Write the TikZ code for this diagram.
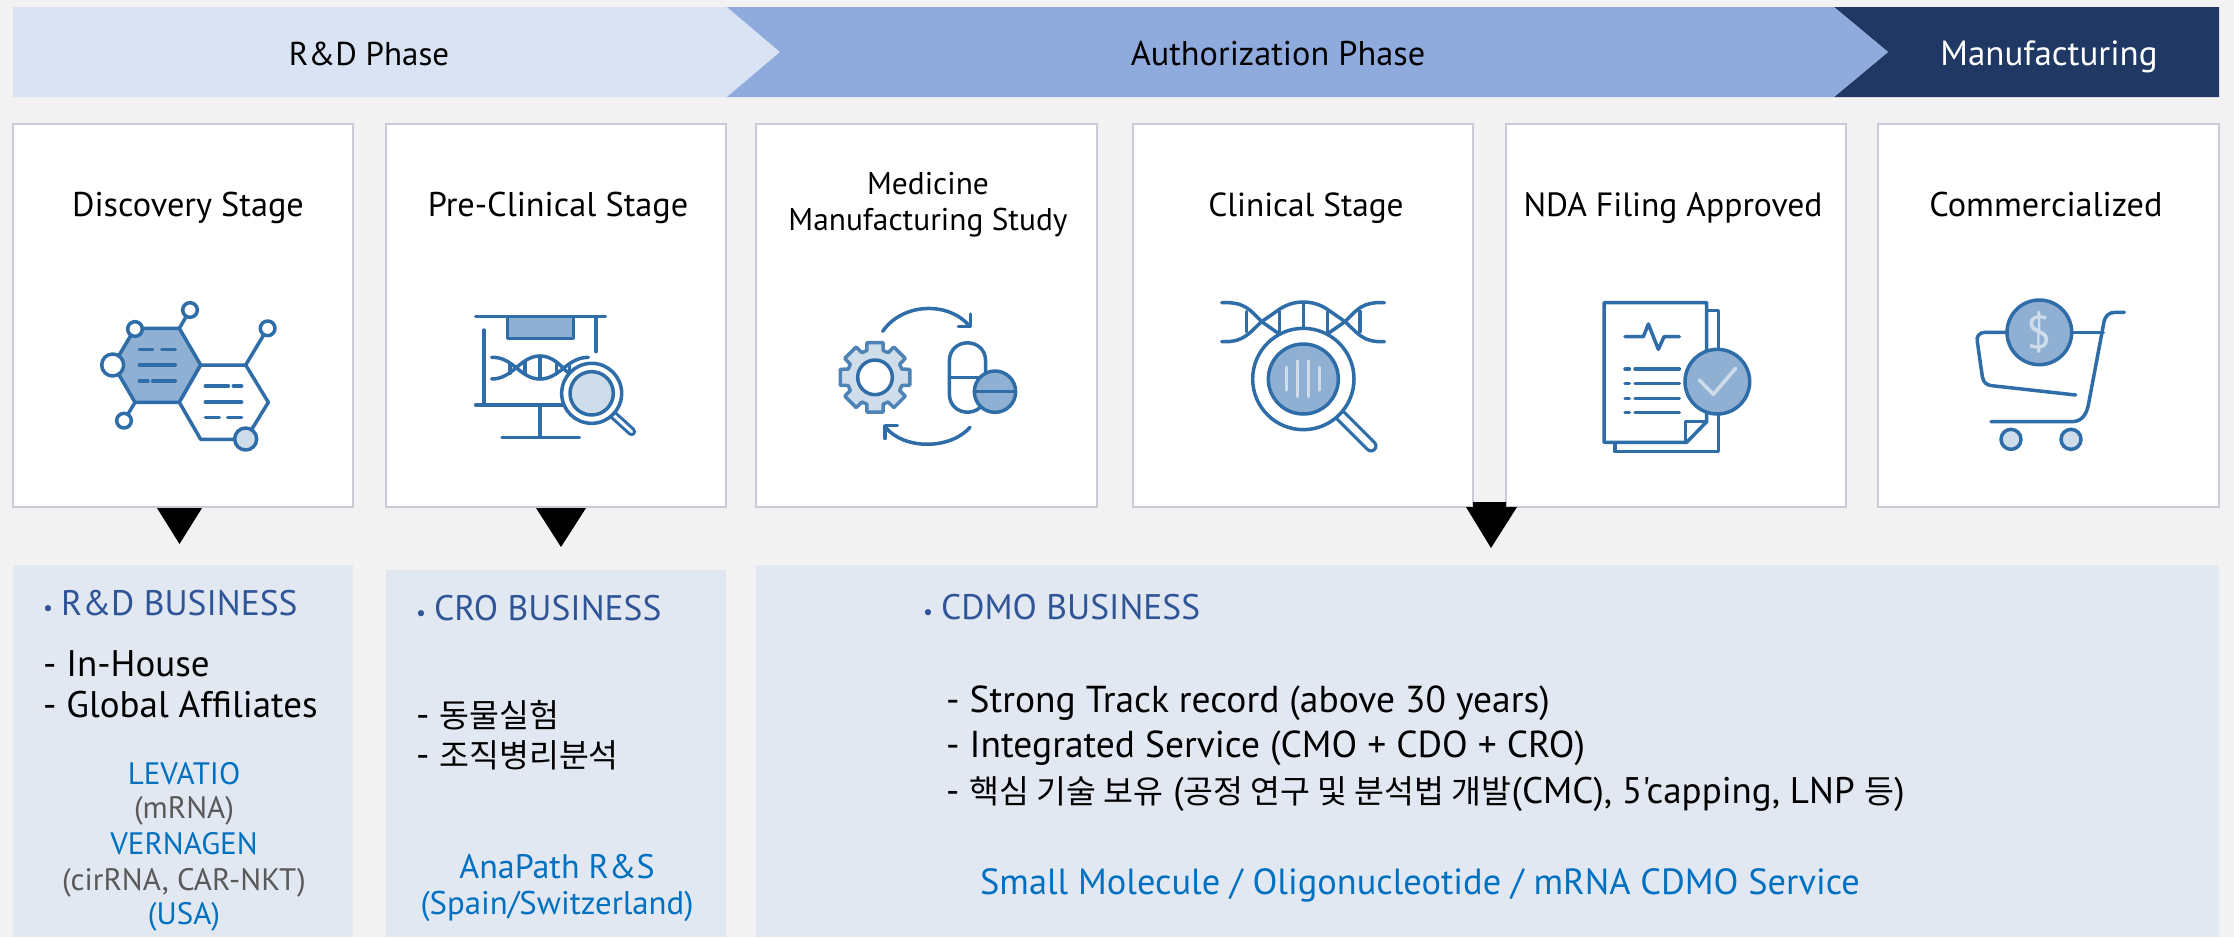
\documentclass[tikz,border=0pt]{standalone}
\usepackage{fontspec}
\setmainfont[Ligatures=TeXOff]{PT Sans}
\newfontfamily\krfont{Noto Sans CJK KR}
\definecolor{bgc}{HTML}{F2F2F2}
\definecolor{band1}{HTML}{DAE3F3}
\definecolor{band2}{HTML}{8FAADC}
\definecolor{band3}{HTML}{1F3864}
\definecolor{panelc}{HTML}{E2E8F2}
\definecolor{boxline}{HTML}{C9CCD6}
\definecolor{ink}{HTML}{2F6DA8}
\definecolor{midf}{HTML}{8FB0D2}
\definecolor{lightf}{HTML}{CFDCE9}
\definecolor{headblue}{HTML}{2F5597}
\definecolor{linkblue}{HTML}{0070C0}
\definecolor{greytxt}{HTML}{595959}
\newcommand{\fsz}[1]{\fontsize{#1}{#1}\selectfont}
\newcommand{\kr}[1]{{\krfont\fsz{32.5}#1}}
\newcommand{\bul}{{\fsz{22}\textbullet}\hspace{8pt}}
\tikzset{
  x=1pt,y=-1pt,
  stagebox/.style={draw=boxline,line width=1.2pt,fill=white},
  panel/.style={fill=panelc},
  tri/.style={fill=black},
  fixh/.style={inner sep=0pt,text height=32pt,text depth=8pt},
  title/.style={fixh,font=\fsz{#1},text=black},
  title/.default=34.3,
  headt/.style={fixh,font=\fsz{#1}},
  headt/.default=34.3,
  bizt/.style={fixh,font=\fsz{35.5},text=headblue,anchor=west},
  bodyt/.style={fixh,font=\fsz{#1},text=black,anchor=west},
  bodyt/.default=37,
  linkt/.style={fixh,font=\fsz{#1},text=linkblue},
  linkt/.default=31,
  greyt/.style={fixh,font=\fsz{31},text=greytxt},
  ic/.style={draw=ink,line width=3.5pt,line cap=round,line join=round},
  icon/.style={shift={(#1)},scale=1/3},
}
\begin{document}
\begin{tikzpicture}
\useasboundingbox (0,0) rectangle (2234,937);
\fill[bgc] (0,0) rectangle (2234,937);
% header bands
\fill[band1] (13,7)--(727,7)--(780,52)--(727,97)--(13,97)--cycle;
\fill[band3] (1834,7)--(2219,7)--(2219,97)--(1834,97)--(1888,52)--cycle;
\fill[band2] (727,7)--(1834,7)--(1888,52)--(1834,97)--(727,97)--(780,52)--cycle;
\node[headt=33,text=black] (h1) at (369,53) {R\&D Phase};
\node[headt,text=black] (h2) at (1278,53) {Authorization Phase};
\node[headt=35,text=white] (h3) at (2049,53) {Manufacturing};
% stage boxes
\draw[stagebox] (13,124) rectangle (353,507);
\draw[stagebox] (386,124) rectangle (726,507);
\draw[stagebox] (756,124) rectangle (1097,507);
\draw[stagebox] (1133,124) rectangle (1473,507);
\draw[stagebox] (1506,124) rectangle (1846,507);
\draw[stagebox] (1878,124) rectangle (2219,507);
\node[title] (t1) at (188,204) {Discovery Stage};
\node[title] (t2) at (558,204) {Pre-Clinical Stage};
\node[title=31.4] (t3a) at (928,182) {Medicine};
\node[title=31.4] (t3b) at (928,218) {Manufacturing Study};
\node[title=33.3] (t4) at (1306,204) {Clinical Stage};
\node[title=33.6] (t5) at (1673,204) {NDA Filing Approved};
\node[title] (t6) at (2046,204) {Commercialized};
% panels
\fill[panel] (13,565) rectangle (353,937);
\fill[panel] (386,570) rectangle (726,937);
\fill[panel] (756,565) rectangle (2219,937);
% triangles
\fill[tri] (157,508)--(202,508)--(179.5,544)--cycle;
\fill[tri] (536,508)--(586,508)--(561,547)--cycle;
\fill[tri] (1473,502)--(1506,502)--(1506,507)--(1517,507)--(1491,548)--(1466,507)--(1473,507)--cycle;
% panel texts
\node[bizt] (b1) at (43,603) {\bul R\&D BUSINESS};
\node[bodyt] (b1a) at (43,664) {- In-House};
\node[bodyt] (b1b) at (43,705) {- Global Affiliates};
\node[linkt] (b1c) at (184,772) {LEVATIO};
\node[greyt] (b1d) at (184,806) {(mRNA)};
\node[linkt] (b1e) at (184,842) {VERNAGEN};
\node[greyt] (b1f) at (184,878) {(cirRNA, CAR-NKT)};
\node[linkt] (b1g) at (184,912) {(USA)};
\node[bizt] (b2) at (416,608) {\bul CRO BUSINESS};
\node[bodyt] (b2a) at (416,715) {- \kr{동물실험}};
\node[bodyt] (b2b) at (416,755) {- \kr{조직병리분석}};
\node[linkt=34] (b2c) at (557,866) {AnaPath R\&S};
\node[linkt=32.8] (b2d) at (557,902) {(Spain/Switzerland)};
\node[bizt] (b3) at (923,607) {\bul CDMO BUSINESS};
\node[bodyt=37.5] (b3a) at (946,700) {- Strong Track record (above 30 years)};
\node[bodyt=37.5] (b3b) at (946,745) {- Integrated Service (CMO + CDO + CRO)};
\node[bodyt=37] (b3c) at (946,791) {- \kr{핵심 기술 보유} (\kr{공정 연구 및 분석법 개발}(CMC), 5'capping, LNP \kr{등})};
\node[linkt=36.4] (b3d) at (1420,882) {Small Molecule / Oligonucleotide / mRNA CDMO Service};
% icon 1
\begin{scope}[icon={80,280}]
\draw[ic,fill=midf] (165,145)--(298,145)--(362,255)--(298,367)--(165,367)--(100,255)--cycle;
\draw[ic,fill=white] (362,255)--(497,255)--(565,367)--(497,478)--(362,478)--(298,367)--cycle;
\draw[ic] (298,145)--(330,90) (497,255)--(563,145) (165,367)--(132,422);
\draw[ic,fill=white] (165,147) circle[radius=22];
\draw[ic,fill=white] (98,255) circle[radius=33];
\draw[ic,fill=white] (330,90) circle[radius=22];
\draw[ic,fill=white] (563,145) circle[radius=22];
\draw[ic,fill=white] (132,422) circle[radius=22];
\draw[ic,fill=lightf] (497,477) circle[radius=33];
\draw[ic] (178,208)--(218,208) (245,208)--(286,208) (178,255)--(286,255) (178,303)--(204,303) (218,303)--(286,303);
\draw[ic] (376,318)--(445,318) (460,318)--(485,318) (376,366)--(485,366) (376,413)--(418,413) (443,413)--(485,413);
\end{scope}
% icon 2
\begin{scope}[icon={450,290}]
\draw[ic,fill=midf] (172,80)--(172,145)--(370,145)--(370,80);
\draw[ic] (77,80)--(466,80) (438,80)--(438,185) (102,120)--(102,345) (77,345)--(340,345) (270,345)--(270,442) (156,442)--(388,442);
\draw[ic] (125,202) .. controls (190,200) and (210,267) .. (270,267) .. controls (330,267) and (350,202) .. (415,202);
\draw[ic] (125,267) .. controls (190,267) and (210,198) .. (270,198) .. controls (330,198) and (350,267) .. (380,255);
\draw[ic] (180,222)--(180,250) (225,215)--(225,250) (270,198)--(270,267) (320,215)--(320,252) (358,225)--(358,250);
\draw[draw=ink,line width=9pt,line cap=round] (490,375)--(545,425);
\draw[draw=white,line width=3pt,line cap=round] (490,375)--(545,425);
\draw[ic,fill=white] (425,310) circle[radius=90];
\draw[ic,fill=lightf] (425,310) circle[radius=65];
\end{scope}
% icon 3
\begin{scope}[icon={820,290}]
\draw[ic] (188,124) .. controls (250,35) and (390,35) .. (450,110);
\draw[ic] (452,72)--(452,110)--(415,110);
\draw[ic] (450,412) .. controls (390,480) and (250,480) .. (195,410);
\draw[ic] (195,445)--(195,407)--(232,407);
\begin{scope}[shift={(165,262)}]
\draw[draw=ink!85,line width=3.5pt,line join=round,fill=lightf] (-13:107)
 \foreach \a in {0,45,...,315} { -- (\a-13:107) -- (\a+13:107) -- (\a+17:84) -- (\a+28:84) } -- cycle;
\draw[ic,fill=white] (0,0) circle[radius=52];
\end{scope}
\draw[ic,fill=white] (388,262)--(388,214) .. controls (388,140) and (497,140) .. (497,214)--(497,311) .. controls (497,385) and (388,385) .. (388,311)--cycle;
\draw[ic] (388,262)--(497,262);
\draw[ic,fill=midf] (525,305) circle[radius=62];
\draw[ic] (465,305)--(585,305);
\end{scope}
% icon 4
\begin{scope}[icon={1200,280}]
\draw[ic] (65,68) .. controls (135,65) and (150,90) .. (185,125) -- (235,160);
\draw[ic] (553,68) .. controls (485,65) and (470,90) .. (435,125) -- (385,160);
\draw[ic] (65,185) .. controls (135,188) and (150,155) .. (185,125) -- (235,90) .. controls (280,58) and (340,58) .. (385,90) -- (435,125) .. controls (470,155) and (485,188) .. (553,185);
\draw[ic] (140,95)--(140,155) (238,95)--(238,160) (310,68)--(310,145) (382,95)--(382,160) (480,95)--(480,155);
\draw[draw=ink,line width=13pt,line cap=round] (420,405)--(513,498);
\draw[draw=white,line width=6.5pt,line cap=round] (420,405)--(513,498);
\draw[ic,fill=white] (310,297) circle[radius=152];
\draw[ic,fill=midf] (310,297) circle[radius=105];
\draw[draw=lightf,line width=3.5pt,line cap=round] (259,262)--(259,330) (292,243)--(292,350) (325,243)--(325,350) (358,262)--(358,330);
\end{scope}
% icon 5
\begin{scope}[icon={1580,280}]
\draw[ic] (385,92)--(415,92)--(415,515)--(105,515)--(105,490);
\draw[ic,fill=white] (72,68)--(380,68)--(380,425)--(320,487)--(72,487)--cycle;
\draw[ic] (380,425)--(316,425)--(316,487);
\draw[ic] (135,170)--(190,170)--(205,132)--(235,208)--(252,170)--(298,170);
\foreach \yy in {267,311,355,398}{\draw[ic] (135,\yy)--(148,\yy) (165,\yy)--(298,\yy);}
\draw[ic,fill=midf] (412,305) circle[radius=97];
\draw[draw=lightf,line width=3.5pt,line cap=round,line join=round] (358,300)--(400,343)--(467,265);
\end{scope}
% icon 6
\begin{scope}[icon={1950,290}]
\draw[ic] (523,67)--(495,67) .. controls (475,67) and (465,80) .. (462,95)--(415,345) .. controls (408,380) and (390,395) .. (365,395)--(123,395);
\draw[ic] (170,127)--(105,127) .. controls (88,127) and (78,140) .. (82,155)--(97,260) .. controls (100,278) and (110,285) .. (125,287)--(377,315);
\draw[ic] (365,127)--(460,127);
\draw[ic,fill=midf] (268,127) circle[radius=97];
\node[font=\fsz{46},text=lightf,inner sep=0pt] (dollar) at (268,127) {\$};
\draw[ic,fill=lightf] (183,448) circle[radius=30];
\draw[ic,fill=lightf] (363,448) circle[radius=30];
\end{scope}
\end{tikzpicture}
\end{document}
